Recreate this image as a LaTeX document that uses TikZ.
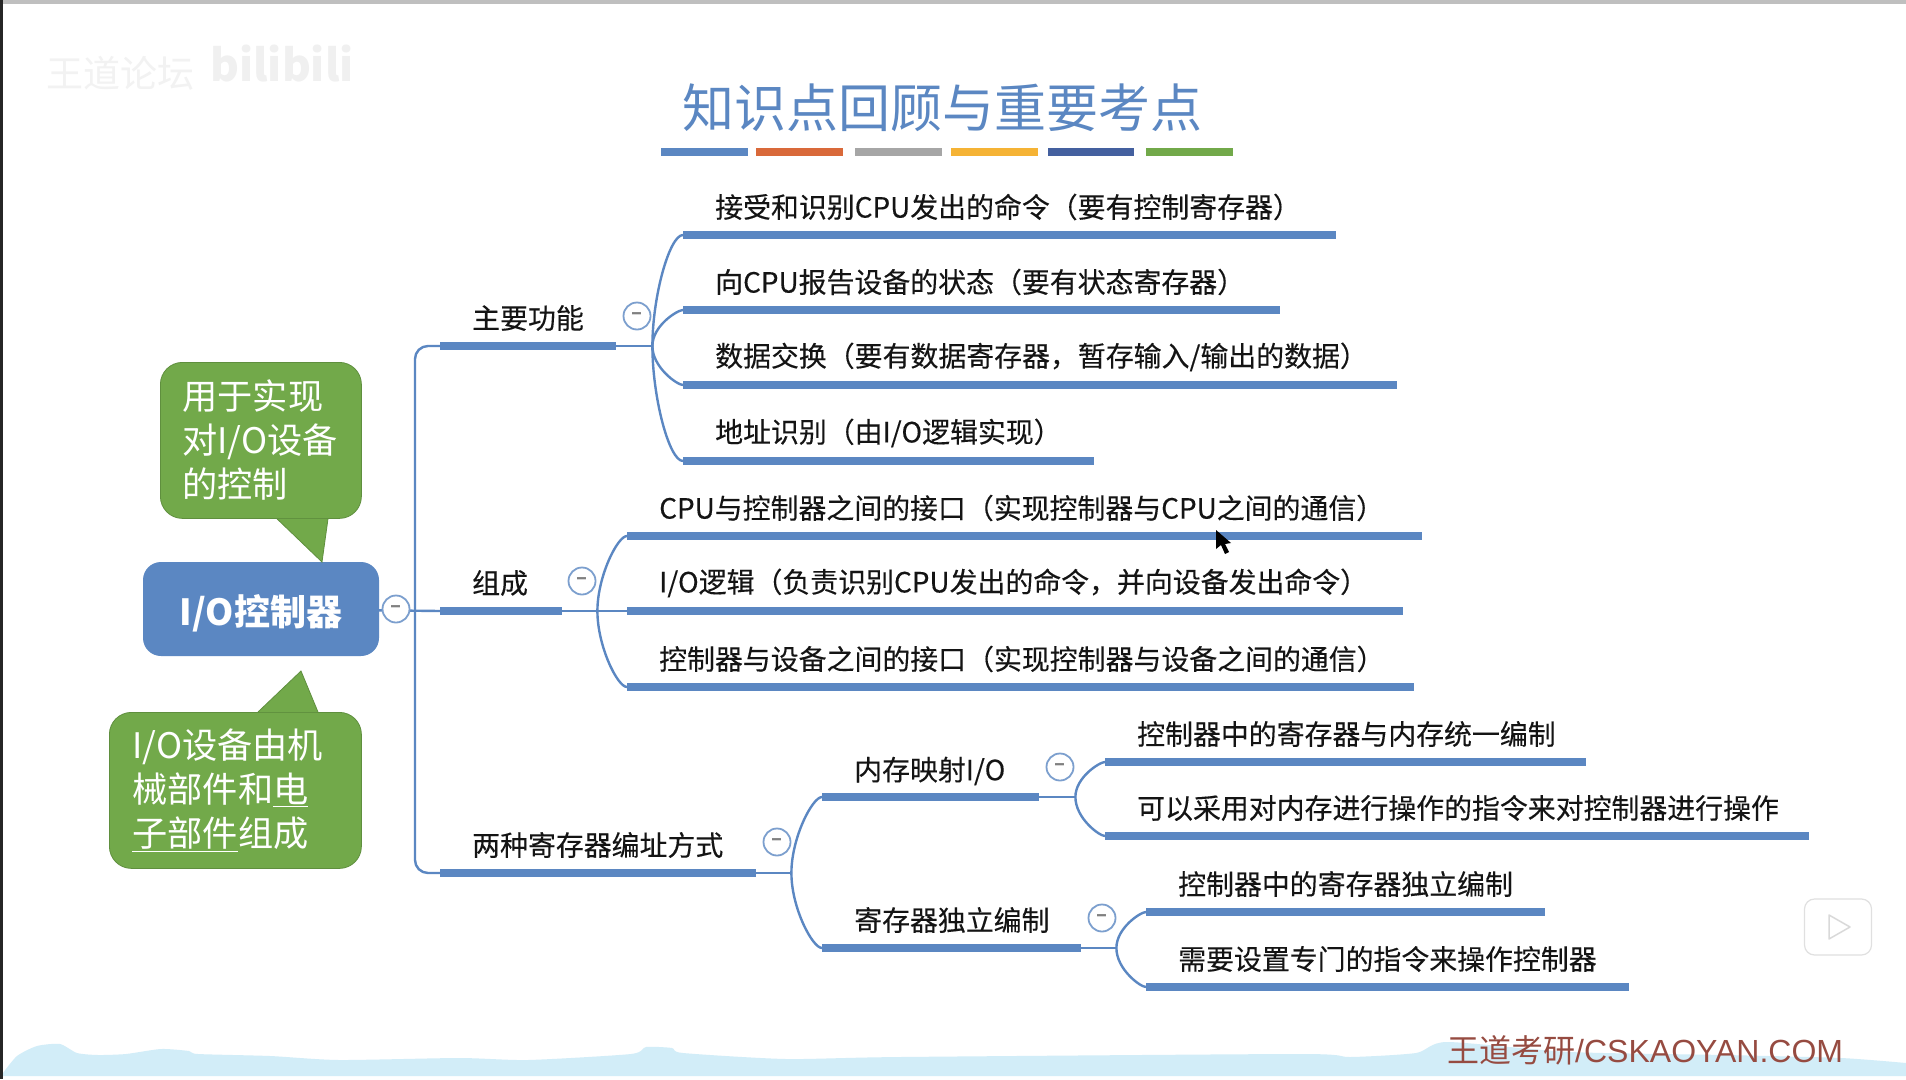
\documentclass[tikz,border=0pt]{standalone}
\usepackage{fontspec}
\setmainfont{Noto Sans CJK SC}
\newfontfamily\footfont{Liberation Sans}
\newfontfamily\itemfont[FakeBold=0.25]{Noto Sans CJK SC}
\usepackage{xcolor}
\usetikzlibrary{calc, positioning}

\definecolor{mapblue}{HTML}{5B87C2}
\definecolor{notegreen}{HTML}{72A94A}
\definecolor{noteedge}{HTML}{5F8F3E}
\definecolor{wavecol}{HTML}{D2EDF8}

\begin{document}
\begin{tikzpicture}[
      x=1pt, y=-1pt,
      bar/.style={fill=mapblue, anchor=west, inner sep=0pt, minimum height=7.5pt},
      item/.style={anchor=west, inner sep=0pt, font=\itemfont\fontsize{27.9}{32}\selectfont, text=black!92},
      over/.style={right=32pt of #1.west, yshift=28pt},
      link/.style={draw=mapblue, line width=2.4pt},
      curve/.style={out looseness=1.1, in looseness=.3},
      minus/.style={circle, draw=mapblue!80, fill=white, line width=1.8pt, minimum size=27pt,
                    inner sep=0pt, text=gray, font=\bfseries\fontsize{20}{20}\selectfont},
      note/.style={fill=notegreen, draw=noteedge, line width=.8pt, rounded corners=22pt, anchor=north west,
                   align=left, text=white, inner sep=0pt, font=\fontsize{35.2}{44}\selectfont},
      stripe/.style={minimum width=86.5pt, minimum height=8pt, inner sep=0pt, anchor=west}
    ]
    \useasboundingbox (0,0) rectangle (1906,1079);
    \fill[white] (0,0) rectangle (1906,1079);
    \fill[black!25] (0,0) rectangle (1906,4);
    \fill[black!85] (0,0) rectangle (3,1079);

    % bottom wave
    \fill[wavecol] plot[smooth, tension=.4] coordinates {(3,1073) (17,1056) (37,1046) (60,1044) (77,1053) (98,1055)
      (126,1054) (161,1049) (189,1051) (198,1054) (270,1056) (339,1060) (459,1058) (528,1060) (631,1054) (646,1047)
      (672,1048) (683,1053) (786,1059) (900,1057) (1300,1054) (1350,1057) (1416,1053) (1447,1042) (1570,1052)
      (1725,1055) (1841,1058) (1906,1063)} -- (1906,1076) -- (3,1076) -- cycle;

    % watermarks
    \node[text=black!5, font=\fontsize{37}{37}\selectfont] (forum) at (120,73) {王道论坛};
    \node[text=black!6, font=\bfseries\fontsize{44}{44}\selectfont] (bili) at (282,64) {bilibili};

    % title
    \node[text=mapblue, font=\fontsize{52}{56}\selectfont] (title) at (942,108) {知识点回顾与重要考点};
    \node[stripe, fill=mapblue] (s1) at (661,152) {};
    \node[stripe, fill={rgb,255:red,217;green,105;blue,58}, right=8pt of s1] (s2) {};
    \node[stripe, fill=black!35, right=12pt of s2] (s3) {};
    \node[stripe, fill={rgb,255:red,245;green,179;blue,53}, right=9.5pt of s3] (s4) {};
    \node[stripe, fill={rgb,255:red,68;green,96;blue,159}, right=9.5pt of s4] (s5) {};
    \node[stripe, fill=notegreen, right=11.5pt of s5] (s6) {};

    % root and notes
    \node[fill=mapblue, rounded corners=18pt, minimum width=236pt, minimum height=94pt, text=white,
          font=\bfseries\fontsize{36}{40}\selectfont] (root) at (261,609) {\raisebox{-4pt}[1em][.3em]{I/O控制器}};
    \node[note, minimum width=201pt, minimum height=156pt, text width=201pt] (note1) at (160,362)
      {\hspace*{22pt}用于实现\\\hspace*{22pt}对I/O设备\\\hspace*{22pt}的控制};
    \node[note, minimum width=252pt, minimum height=156pt, text width=252pt] (note2) at (109,712)
      {\hspace*{23pt}I/O设备由机\\\hspace*{23pt}械部件和\underline{电}\\\hspace*{23pt}\underline{子部件}组成};
    \draw[fill=notegreen, draw=noteedge, line width=.8pt] ($(note1.south west)+(117,0)$) -- (322,562) -- ($(note1.south west)+(168,0)$);
    \draw[fill=notegreen, draw=noteedge, line width=.8pt] ($(note2.north west)+(149,0)$) -- (301,671) -- ($(note2.north west)+(209,0)$);

    % first level
    \node[bar, minimum width=176pt] (func) at (440,346) {};
    \node[bar, minimum width=122pt] (comp) at (440,611) {};
    \node[bar, minimum width=316pt] (regs) at (440,873) {};
    \node[item, over=func] (functext) {主要功能};
    \node[item, over=comp] (comptext) {组成};
    \node[item, over=regs] (regstext) {两种寄存器编址方式};

    % second level
    \node[bar, minimum width=653pt] (func1) at (683,235) {};
    \node[bar, minimum width=597pt] (func2) at (683,310) {};
    \node[bar, minimum width=714pt] (func3) at (683,385) {};
    \node[bar, minimum width=411pt] (func4) at (683,461) {};
    \node[item, over=func1] (func1text) {接受和识别CPU发出的命令（要有控制寄存器）};
    \node[item, over=func2] (func2text) {向CPU报告设备的状态（要有状态寄存器）};
    \node[item, over=func3] (func3text) {数据交换（要有数据寄存器，暂存输入/输出的数据）};
    \node[item, over=func4] (func4text) {地址识别（由I/O逻辑实现）};

    \node[bar, minimum width=795pt] (comp1) at (627,536) {};
    \node[bar, minimum width=776pt] (comp2) at (627,611) {};
    \node[bar, minimum width=787pt] (comp3) at (627,687) {};
    \node[item, over=comp1] (comp1text) {CPU与控制器之间的接口（实现控制器与CPU之间的通信）};
    \node[item, over=comp2] (comp2text) {I/O逻辑（负责识别CPU发出的命令，并向设备发出命令）};
    \node[item, over=comp3] (comp3text) {控制器与设备之间的接口（实现控制器与设备之间的通信）};

    \node[bar, minimum width=217pt] (mem) at (822,797) {};
    \node[bar, minimum width=259pt] (ind) at (822,948) {};
    \node[item, over=mem, yshift=-2pt] (memtext) {内存映射I/O};
    \node[item, over=ind] (indtext) {寄存器独立编制};

    % third level
    \node[bar, minimum width=481pt] (mem1) at (1105,762) {};
    \node[bar, minimum width=704pt] (mem2) at (1105,836) {};
    \node[bar, minimum width=399pt] (ind1) at (1146,912) {};
    \node[bar, minimum width=483pt] (ind2) at (1146,987) {};
    \node[item, over=mem1] (mem1text) {控制器中的寄存器与内存统一编制};
    \node[item, over=mem2] (mem2text) {可以采用对内存进行操作的指令来对控制器进行操作};
    \node[item, over=ind1] (ind1text) {控制器中的寄存器独立编制};
    \node[item, over=ind2] (ind2text) {需要设置专门的指令来操作控制器};

    % junctions
    \coordinate (jroot) at (415,609);
    \coordinate[right=36pt of func.east] (jfunc);
    \coordinate[right=35pt of comp.east] (jcomp);
    \coordinate[right=35pt of regs.east] (jregs);
    \coordinate[right=36pt of mem.east] (jmem);
    \coordinate[right=35pt of ind.east] (jind);

    % connectors
    \draw[link, rounded corners=13pt] (func.west) -| (jroot) |- (regs.west);
    \draw[link] (root) -- (comp.west);
    \draw[link] (func.east) -- (jfunc);
    \draw[link] (comp.east) -- (comp2.west);
    \draw[link] (regs.east) -- (jregs);
    \draw[link] (mem.east) -- (jmem);
    \draw[link] (ind.east) -- (jind);
    \foreach \up/\from in {func1/jfunc, func2/jfunc, comp1/jcomp, mem/jregs, mem1/jmem, ind1/jind}
      \draw[link] (\from) to[out=90, in=180, curve] (\up.west);
    \foreach \down/\from in {func3/jfunc, func4/jfunc, comp3/jcomp, ind/jregs, mem2/jmem, ind2/jind}
      \draw[link] (\from) to[out=-90, in=180, curve] (\down.west);

    % collapse marks
    \node[minus] (rootminus) at (396,609) {–};
    \node[minus] (funcminus) at (637,316) {–};
    \node[minus] (compminus) at (582,581) {–};
    \node[minus] (regsminus) at (777,842) {–};
    \node[minus] (memminus) at (1060,767) {–};
    \node[minus] (indminus) at (1102,918) {–};

    % cursor
    \fill[black] (1216,530) -- (1216,549) -- (1221,545) -- (1225,554) -- (1229,552) -- (1225,544) -- (1231,543) -- cycle;

    % player mark
    \draw[black!12, fill=white, line width=1.5pt, line cap=round] (1820,902) -- (1826,911) (1858,902) -- (1852,911);
    \node[draw=black!12, fill=white, rounded corners=10pt, line width=1.2pt, minimum width=67pt, minimum height=56pt] (player) at (1838,927) {};
    \draw[black!15, fill=white, line width=1.5pt, line join=round] ($(player.center)+(-9,-12)$) -- ($(player.center)+(12,0)$) -- ($(player.center)+(-9,12)$) -- cycle;

    % footer
    \node[text={rgb,255:red,150;green,75;blue,65}, anchor=west, inner sep=0pt, font=\fontsize{32}{36}\selectfont] (footer) at (1447,1050)
      {王道考研{\footfont/CSKAOYAN.COM}};
  \end{tikzpicture}
\end{document}
